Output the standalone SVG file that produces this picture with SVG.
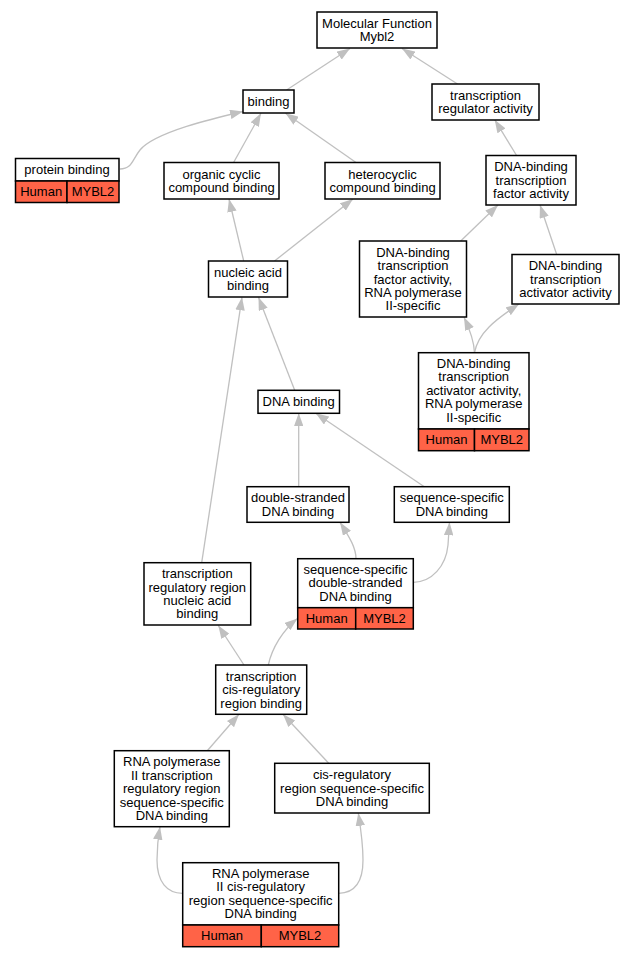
<svg xmlns="http://www.w3.org/2000/svg" width="633" height="957" viewBox="0 0 633 957">
<style>
.n rect{fill:#fff;stroke:#000;stroke-width:1.5}
.n rect.o{fill:#ff6347}
.n line{stroke:#000;stroke-width:1.5}
text{font-family:"Liberation Sans",Arial,sans-serif;font-size:13px;fill:#000;text-anchor:middle}
.e path{fill:none;stroke:#c0c0c0;stroke-width:1.3;marker-end:url(#a)}
</style>
<defs>
<marker id="a" viewBox="0 0 13 9.5" refX="13" refY="4.75" markerWidth="13" markerHeight="9.5" markerUnits="userSpaceOnUse" orient="auto">
<path d="M0,0 L13,4.75 L0,9.5 z" fill="#c0c0c0"/>
</marker>
</defs>
<rect width="633" height="957" fill="#fff"/>
<g class="e" id="edges">
<path d="M286.6,90 L350,48.5"/>
<path d="M457.5,84 L402,48.5"/>
<path d="M120,169 C132,169 132,160 140,150 C155,132 215,118 243,111.5"/>
<path d="M233.6,162.5 L261,113.3"/>
<path d="M356,162.5 L285.5,113.3"/>
<path d="M516.6,155.5 L494.7,119.7"/>
<path d="M243.7,261 L229,199"/>
<path d="M274.5,261 L353,199"/>
<path d="M460.7,241 L498,205"/>
<path d="M556.7,254.5 L540,205"/>
<path d="M474.5,352.7 C474,340 470,330 464,317.3"/>
<path d="M474.5,352.7 C478,333 495,320 519,304"/>
<path d="M294.7,390.3 L258.5,297.3"/>
<path d="M201.7,562.7 L242,297.3"/>
<path d="M298.7,486.7 L298.7,413.3"/>
<path d="M424.3,486.7 L315.8,413.3"/>
<path d="M356,558.7 C356,548 350,538 340,522.3"/>
<path d="M413.5,582.3 C432,582 446,566 448,545 L449.5,522.3"/>
<path d="M244,665 L218.3,625.5"/>
<path d="M268.3,665 C272,648 283,630 297.5,618.5"/>
<path d="M207.3,750.7 L239,714.3"/>
<path d="M328.7,763.3 L283,714.3"/>
<path d="M182.5,893.3 C167,893 157,882 157,860 C157,848 158,838 160,826.7"/>
<path d="M338.7,893.3 C355,893 363,882 363,860 C363,845 361,830 358.3,813"/>
</g>
<g class="n" id="mf"><rect x="317" y="12" width="120" height="36"/><text x="377" y="27.8">Molecular Function</text><text x="377" y="41.2">Mybl2</text></g>
<g class="n" id="binding"><rect x="243" y="90" width="51" height="23"/><text x="268.5" y="106">binding</text></g>
<g class="n" id="tra"><rect x="432" y="84" width="107" height="36"/><text x="485.5" y="99.8">transcription</text><text x="485.5" y="113.2">regulator activity</text></g>
<g class="n" id="protein"><rect x="15.5" y="158.5" width="103.5" height="22.5"/><rect class="o" x="15.5" y="181" width="51.5" height="21.5"/><rect class="o" x="67" y="181" width="52" height="21.5"/><text x="67" y="174.2">protein binding</text><text x="41.2" y="196.3">Human</text><text x="93" y="196.3">MYBL2</text></g>
<g class="n" id="organic"><rect x="164" y="162.5" width="115" height="36.5"/><text x="221.5" y="178.5">organic cyclic</text><text x="221.5" y="191.9">compound binding</text></g>
<g class="n" id="hetero"><rect x="325" y="162.5" width="115" height="36.5"/><text x="382.5" y="178.5">heterocyclic</text><text x="382.5" y="191.9">compound binding</text></g>
<g class="n" id="tf"><rect x="486" y="155.5" width="90" height="49.5"/><text x="531" y="171.3">DNA-binding</text><text x="531" y="184.7">transcription</text><text x="531" y="198.1">factor activity</text></g>
<g class="n" id="nucleic"><rect x="208.5" y="261" width="79" height="36"/><text x="248" y="276.8">nucleic acid</text><text x="248" y="290.2">binding</text></g>
<g class="n" id="tfpol"><rect x="359.5" y="241" width="107" height="76"/><text x="413" y="256.7">DNA-binding</text><text x="413" y="270.1">transcription</text><text x="413" y="283.5">factor activity,</text><text x="413" y="296.9">RNA polymerase</text><text x="413" y="310.3">II-specific</text></g>
<g class="n" id="taa"><rect x="512" y="254.5" width="107" height="49.5"/><text x="565.5" y="270.3">DNA-binding</text><text x="565.5" y="283.7">transcription</text><text x="565.5" y="297.1">activator activity</text></g>
<g class="n" id="taapol"><rect x="418.5" y="352.7" width="110.5" height="76.3"/><rect class="o" x="418.5" y="429" width="56" height="21.7"/><rect class="o" x="474.5" y="429" width="54.5" height="21.7"/><text x="473.7" y="368">DNA-binding</text><text x="473.7" y="381.4">transcription</text><text x="473.7" y="394.8">activator activity,</text><text x="473.7" y="408.2">RNA polymerase</text><text x="473.7" y="421.6">II-specific</text><text x="446.5" y="444.3">Human</text><text x="501.7" y="444.3">MYBL2</text></g>
<g class="n" id="dnab"><rect x="258" y="390.3" width="81.5" height="23"/><text x="298.7" y="406.3">DNA binding</text></g>
<g class="n" id="ds"><rect x="247" y="486.7" width="102" height="35.6"/><text x="298" y="502.3">double-stranded</text><text x="298" y="515.7">DNA binding</text></g>
<g class="n" id="ss"><rect x="394.3" y="486.7" width="115" height="35.6"/><text x="451.8" y="502.3">sequence-specific</text><text x="451.8" y="515.7">DNA binding</text></g>
<g class="n" id="ssds"><rect x="297.7" y="558.7" width="115.6" height="49"/><rect class="o" x="297.7" y="607.7" width="58" height="21.3"/><rect class="o" x="355.7" y="607.7" width="57.6" height="21.3"/><text x="355.5" y="574">sequence-specific</text><text x="355.5" y="587.4">double-stranded</text><text x="355.5" y="600.8">DNA binding</text><text x="326.7" y="622.8">Human</text><text x="384.5" y="622.8">MYBL2</text></g>
<g class="n" id="trr"><rect x="144" y="562.7" width="106.7" height="62.3"/><text x="197.3" y="578.2">transcription</text><text x="197.3" y="591.6">regulatory region</text><text x="197.3" y="605">nucleic acid</text><text x="197.3" y="618.4">binding</text></g>
<g class="n" id="tcrb"><rect x="215.7" y="665" width="91" height="49.3"/><text x="261.2" y="680.7">transcription</text><text x="261.2" y="694.1">cis-regulatory</text><text x="261.2" y="707.5">region binding</text></g>
<g class="n" id="rnatrr"><rect x="114.3" y="750.7" width="115" height="76"/><text x="171.8" y="766.4">RNA polymerase</text><text x="171.8" y="779.8">II transcription</text><text x="171.8" y="793.2">regulatory region</text><text x="171.8" y="806.6">sequence-specific</text><text x="171.8" y="820">DNA binding</text></g>
<g class="n" id="cis"><rect x="274.7" y="763.3" width="154.6" height="49.7"/><text x="352" y="779.2">cis-regulatory</text><text x="352" y="792.6">region sequence-specific</text><text x="352" y="806">DNA binding</text></g>
<g class="n" id="rnacis"><rect x="182.7" y="862.7" width="156" height="62.3"/><rect class="o" x="182.7" y="925" width="78.6" height="21.7"/><rect class="o" x="261.3" y="925" width="77.4" height="21.7"/><text x="260.7" y="877.8">RNA polymerase</text><text x="260.7" y="891.2">II cis-regulatory</text><text x="260.7" y="904.6">region sequence-specific</text><text x="260.7" y="918">DNA binding</text><text x="222" y="940.3">Human</text><text x="300" y="940.3">MYBL2</text></g>
</svg>
